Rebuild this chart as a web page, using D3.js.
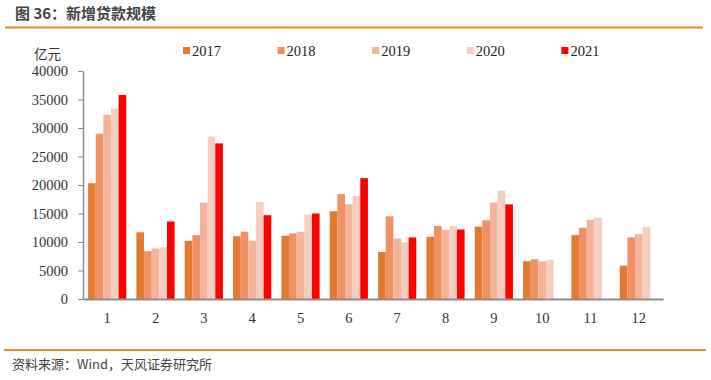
<!DOCTYPE html>
<html>
<head>
<meta charset="utf-8">
<script src="https://cdn.jsdelivr.net/npm/d3@7"></script>
<style>
  body { margin: 0; background: #fff; }
  svg { display: block; }
</style>
</head>
<body>
<div id="chart"></div>
<script>
// monthly new loans, 亿元
const months = ["1", "2", "3", "4", "5", "6", "7", "8", "9", "10", "11", "12"];
const years = ["2017", "2018", "2019", "2020", "2021"];
const v2017 = [20300, 11700, 10200, 11000, 11100, 15400, 8255, 10900, 12700, 6632, 11200, 5844];
const v2018 = [29000, 8393, 11200, 11800, 11500, 18400, 14500, 12800, 13800, 6970, 12500, 10800];
const v2019 = [32300, 8858, 16900, 10200, 11800, 16600, 10600, 12100, 16900, 6613, 13900, 11400];
const v2020 = [33400, 9057, 28500, 17000, 14800, 18100, 9927, 12800, 19000, 6898, 14300, 12600];
const v2021 = [35800, 13600, 27300, 14700, 15000, 21200, 10800, 12200, 16600, null, null, null];
const yTicks = [0, 5000, 10000, 15000, 20000, 25000, 30000, 35000, 40000];
const colors = ["#E27A30", "#F09164", "#F4B39B", "#F7CDC0", "#FF0000"];

const seriesValues = [v2017, v2018, v2019, v2020, v2021];

const W = 711, H = 380;
const svg = d3.select("#chart").append("svg")
  .attr("width", W).attr("height", H);

const serif = "'Liberation Serif', 'Times New Roman', serif";
const sans = "'Noto Sans CJK SC', 'Microsoft YaHei', sans-serif";

// title + rules
svg.append("text")
  .attr("x", 15).attr("y", 19)
  .attr("font-family", sans).attr("font-size", 15).attr("font-weight", "bold")
  .attr("fill", "#444")
  .text("图 36：新增贷款规模");
svg.append("line").attr("x1", 5).attr("x2", 703).attr("y1", 27.5).attr("y2", 27.5)
  .attr("stroke", "#EE8722").attr("stroke-width", 2);
svg.append("line").attr("x1", 4).attr("x2", 706).attr("y1", 350).attr("y2", 350)
  .attr("stroke", "#EE8722").attr("stroke-width", 2);
svg.append("text")
  .attr("x", 12).attr("y", 369)
  .attr("font-family", sans).attr("font-size", 13)
  .attr("fill", "#444")
  .text("资料来源：Wind，天风证券研究所");

const plotL = 83, plotR = 663, plotT = 71, plotB = 299;

const x = d3.scaleBand().domain(months).range([plotL, plotR]).paddingInner(0.21).paddingOuter(0.105);
const xs = d3.scaleBand().domain(years).range([0, x.bandwidth()]);
const y = d3.scaleLinear().domain([0, 40000]).range([plotB, plotT]);

// bars
years.forEach((yr, i) => {
  const vals = seriesValues[i];
  svg.append("g").selectAll("rect")
    .data(months.map((m, j) => ({ m, v: vals[j] })).filter(d => d.v != null))
    .enter().append("rect")
    .attr("x", d => x(d.m) + xs(yr))
    .attr("y", d => y(d.v))
    .attr("width", xs.bandwidth())
    .attr("height", d => plotB - y(d.v))
    .attr("fill", colors[i]);
});

// y axis
const yAxis = svg.append("g")
  .attr("transform", `translate(${plotL},0)`)
  .call(d3.axisLeft(y).tickValues(yTicks).tickSize(5).tickSizeOuter(0).tickFormat(d3.format("d")));
yAxis.select(".domain").attr("stroke", "#8c8c8c").attr("stroke-width", 1.5);
yAxis.selectAll(".tick line").attr("stroke", "#8c8c8c");
yAxis.selectAll("text")
  .attr("font-family", serif).attr("font-size", 14.5).attr("fill", "#333").attr("x", -15);

// x axis
const xAxis = svg.append("g")
  .attr("transform", `translate(0,${plotB})`)
  .call(d3.axisBottom(x).tickSize(0).tickSizeOuter(0));
xAxis.select(".domain").attr("stroke", "#8c8c8c").attr("stroke-width", 2);
xAxis.selectAll("text")
  .attr("font-family", serif).attr("font-size", 14.5).attr("fill", "#333").attr("dy", "1.45em");

// unit label
svg.append("text")
  .attr("x", 34).attr("y", 59)
  .attr("font-family", sans).attr("font-size", 13.5)
  .attr("fill", "#333")
  .text("亿元");

// legend
const legend = svg.append("g").attr("transform", "translate(183,47)");
years.forEach((yr, i) => {
  const row = legend.append("g").attr("transform", `translate(${i * 94.6},0)`);
  row.append("rect").attr("width", 7).attr("height", 7).attr("fill", colors[i]);
  row.append("text").attr("x", 9).attr("y", 9)
    .attr("font-family", serif).attr("font-size", 14.5).attr("fill", "#222")
    .text(yr);
});
</script>
</body>
</html>
